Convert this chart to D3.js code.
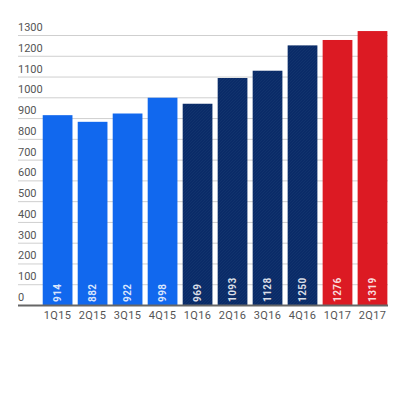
<!DOCTYPE html>
<html>
<head>
<meta charset="utf-8">
<script src="https://cdn.jsdelivr.net/npm/d3@7"></script>
<style>
  body { margin: 0; background: #fff; }
  text { font-family: Roboto, "Noto Sans", sans-serif; }
</style>
</head>
<body>
<svg width="399" height="400"></svg>
<script>
var quarters = ["1Q15", "2Q15", "3Q15", "4Q15", "1Q16", "2Q16", "3Q16", "4Q16", "1Q17", "2Q17"];
var values = [914, 882, 922, 998, 969, 1093, 1128, 1250, 1276, 1319];
var groups = ["a", "a", "a", "a", "b", "b", "b", "b", "c", "c"];
var yTicks = [0, 100, 200, 300, 400, 500, 600, 700, 800, 900, 1000, 1100, 1200, 1300];

var svg = d3.select("svg");

var color = d3.scaleOrdinal()
    .domain(["a", "b", "c"])
    .range(["#1168ee", "#0a2b68", "#dc1a23"]);

var x = d3.scaleBand()
    .domain(quarters)
    .range([40.1, 390])
    .paddingInner(0.15)
    .paddingOuter(0.075);

var y = d3.scaleLinear()
    .domain([0, 1300])
    .range([305, 35]);

// hatch pattern for the navy bars
var defs = svg.append("defs");
var pat = defs.append("pattern")
    .attr("id", "hatch")
    .attr("patternUnits", "userSpaceOnUse")
    .attr("width", 3)
    .attr("height", 3);
pat.append("rect").attr("width", 3).attr("height", 3).attr("fill", color("b"));
pat.append("path")
    .attr("d", "M0,3L3,0")
    .attr("stroke", "#143670")
    .attr("stroke-width", 0.7);

// gridlines + y labels
var grid = svg.append("g").attr("class", "grid");
grid.selectAll("line")
    .data(yTicks.filter(function (d) { return d > 0; }))
    .enter().append("line")
    .attr("x1", 18)
    .attr("x2", 388)
    .attr("y1", function (d) { return y(d) + 0.5; })
    .attr("y2", function (d) { return y(d) + 0.5; })
    .attr("stroke", "#cfcfcf")
    .attr("stroke-width", 1);

grid.selectAll("text")
    .data(yTicks)
    .enter().append("text")
    .attr("x", 18)
    .attr("y", function (d) { return y(d) - 4; })
    .style("font-size", "11px")
    .style("fill", "#555")
    .text(function (d) { return d; });

// bars
svg.append("g").selectAll("rect")
    .data(quarters)
    .enter().append("rect")
    .attr("x", function (d) { return x(d); })
    .attr("width", x.bandwidth())
    .attr("y", function (d, i) { return y(values[i]); })
    .attr("height", function (d, i) { return y(0) - y(values[i]); })
    .attr("fill", function (d, i) {
        return groups[i] == "b" ? "url(#hatch)" : color(groups[i]);
    });

// value labels inside bars
svg.append("g").selectAll("text")
    .data(quarters)
    .enter().append("text")
    .attr("transform", function (d) {
        return "translate(" + (x(d) + x.bandwidth() / 2 + 3.5) + "," + 302 + ") rotate(-90)";
    })
    .style("font-size", "10px")
    .style("font-weight", "bold")
    .style("letter-spacing", "0.4px")
    .style("fill", "#fff")
    .style("fill-opacity", 0.85)
    .text(function (d, i) { return values[i]; });

// baseline
svg.append("line")
    .attr("x1", 18)
    .attr("x2", 388)
    .attr("y1", 305.5)
    .attr("y2", 305.5)
    .attr("stroke", "#666")
    .attr("stroke-width", 2);

// x labels
svg.append("g").selectAll("text")
    .data(quarters)
    .enter().append("text")
    .attr("x", function (d) { return x(d) + x.bandwidth() / 2; })
    .attr("y", 319)
    .attr("text-anchor", "middle")
    .style("font-size", "11px")
    .style("letter-spacing", "0.4px")
    .style("fill", "#555")
    .text(function (d) { return d; });
</script>
</body>
</html>
